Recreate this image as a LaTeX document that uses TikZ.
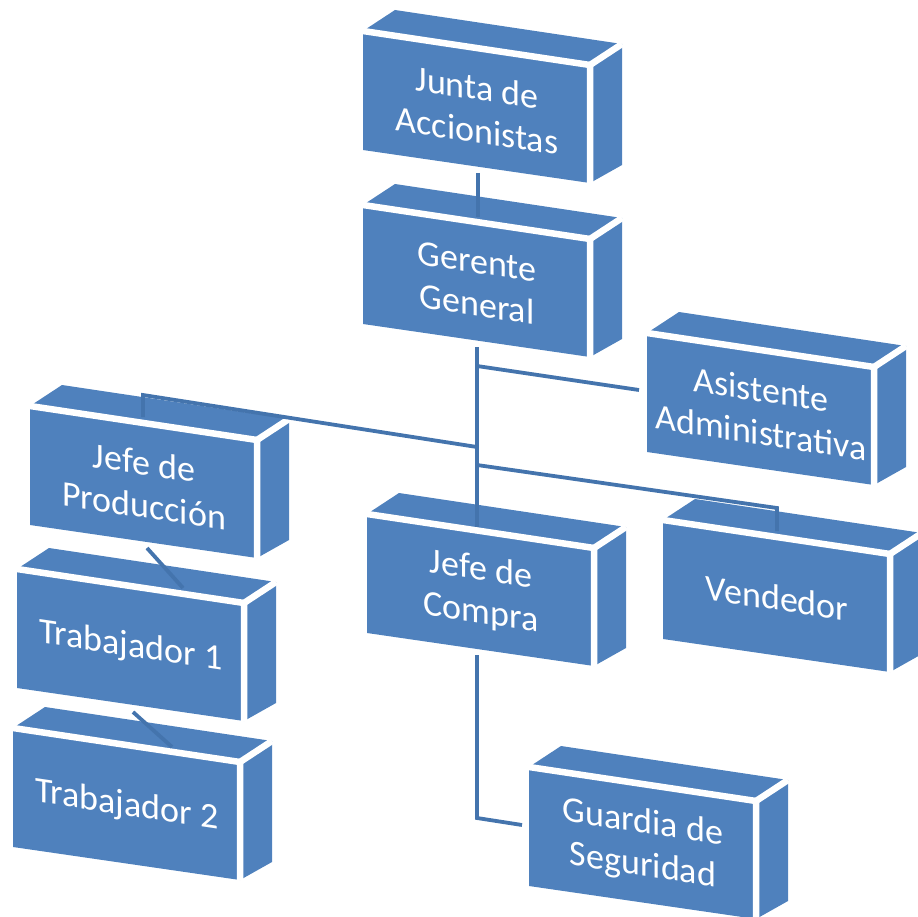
\documentclass[tikz,border=0pt]{standalone}
\usepackage{fontspec}
\setmainfont{Carlito}
\definecolor{boxblue}{HTML}{4F81BD}
\definecolor{connblue}{HTML}{4474AD}
\tikzset{
  boxfill/.style={fill=boxblue},
  gapline/.style={draw=white, line width=6.5pt, line cap=butt, line join=miter},
  boxtext/.style={text=white, font={\fontsize{36}{43}\selectfont}, align=center, inner sep=0pt},
  conn/.style={draw=connblue, line width=3.8pt, line cap=butt, line join=miter}
}
\newcommand\orgbox[4]{%
  \begin{scope}[shift={(#2,#3)}]
    \fill[boxfill] (0,0) -- (32,-21) -- (259,13) -- (259,134) -- (227,152) -- (0,119) -- cycle;
    \draw[gapline] (0,0) -- (227,34) -- (227,152);
    \draw[gapline] (227,34) -- (259,13);
    \begin{scope}[shift={(114,78)}, yslant=-0.15]
      \node[boxtext, transform shape] (#1) at (0,0) {#4};
    \end{scope}
  \end{scope}}
\begin{document}
\begin{tikzpicture}[x=1pt,y=-1pt]
\useasboundingbox (0,0) rectangle (918,917);
\clip (0,0) rectangle (918,917);
\orgbox{junta}{363}{31}{Junta de\\Accionistas}
\orgbox{gerente}{363}{205}{Gerente\\General}
\orgbox{asist}{647}{333}{Asistente\\Administrativa}
\orgbox{jprod}{30}{406}{Jefe de\\Producción}
\orgbox{trab1}{17}{569}{Trabajador 1}
\orgbox{trab2}{13}{728}{Trabajador 2}
\orgbox{compra}{367}{514}{Jefe de\\Compra}
\orgbox{vend}{663}{520}{Vendedor}
\orgbox{guardia}{529}{767}{Guardia de\\Seguridad}
% connector points
\coordinate (jg-a) at (478,173);
\coordinate (jg-b) at (478,217);
\coordinate (tr-a) at (477,347);
\coordinate (tr-b) at (477,527);
\coordinate (as-a) at (477,366);
\coordinate (as-b) at (639,390);
\coordinate (jp-a) at (477,447);
\coordinate (jp-k) at (143,395);
\coordinate (jp-b) at (143,417);
\coordinate (ve-a) at (477,465);
\coordinate (ve-k) at (777,508);
\coordinate (ve-b) at (777,531);
\coordinate (t1-a) at (147,548);
\coordinate (t1-b) at (183,588);
\coordinate (t2-a) at (133,712);
\coordinate (t2-b) at (172,747);
\coordinate (gu-a) at (477,655);
\coordinate (gu-k) at (477,818);
\coordinate (gu-b) at (522,825);
\draw[conn] (jg-a) -- (jg-b);
\draw[conn] (tr-a) -- (tr-b);
\draw[conn] (as-a) -- (as-b);
\draw[conn] (jp-a) -- (jp-k) -- (jp-b);
\draw[conn] (ve-a) -- (ve-k) -- (ve-b);
\draw[conn] (t1-a) -- (t1-b);
\draw[conn] (t2-a) -- (t2-b);
\draw[conn] (gu-a) -- (gu-k) -- (gu-b);
\end{tikzpicture}
\end{document}
